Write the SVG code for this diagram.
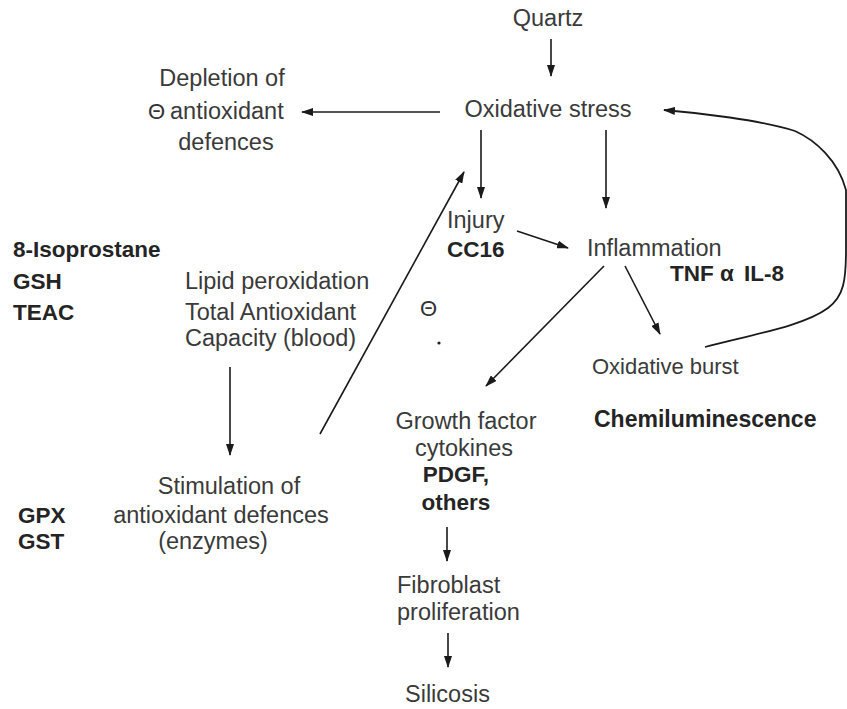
<svg xmlns="http://www.w3.org/2000/svg" width="847" height="709" viewBox="0 0 847 709">
  <defs>
    <marker id="head" viewBox="0 0 12 8" refX="11" refY="4" markerWidth="12" markerHeight="8" markerUnits="userSpaceOnUse" orient="auto">
      <path d="M0,0 L12,4 L0,8 Z" fill="#1a1a1a"/>
    </marker>
    <style>
      text { font-family: "Liberation Sans", Arial, sans-serif; font-size: 23.5px; fill: #3a3a3a; }
      .c { text-anchor: middle; }
      .b { font-weight: bold; font-size: 22.5px; fill: #242424; }
      .sym { font-size: 22px; fill: #333; }
      .link { fill: none; stroke: #1a1a1a; stroke-width: 1.6; marker-end: url(#head); }
      .loop { fill: none; stroke: #1a1a1a; stroke-width: 1.8; marker-end: url(#head); }
    </style>
  </defs>
  <rect width="847" height="709" fill="#ffffff"/>

  <g id="connectors">
    <line class="link" x1="551" y1="39" x2="551" y2="76"/>
    <line class="link" x1="440" y1="112" x2="302" y2="112"/>
    <line class="link" x1="481" y1="130" x2="481" y2="198"/>
    <line class="link" x1="606" y1="130" x2="606" y2="208"/>
    <line class="link" x1="517" y1="231" x2="568" y2="248"/>
    <line class="link" x1="604" y1="266" x2="486" y2="386"/>
    <line class="link" x1="625" y1="266" x2="660" y2="334"/>
    <line class="link" x1="230" y1="367" x2="230" y2="455"/>
    <line class="link" x1="320" y1="434" x2="464" y2="172"/>
    <line class="link" x1="447" y1="527" x2="447" y2="561"/>
    <line class="link" x1="448" y1="633" x2="448" y2="667"/>
    <path class="loop" d="M705,347 C760,333 805,325 828,308 C844,296 846,280 846,250 L846,190 C838,160 815,140 795,131 C760,120 700,113 664,110"/>
  </g>

  <g id="quartz"><text class="c" x="548" y="26">Quartz</text></g>
  <g id="oxidative-stress"><text class="c" x="548" y="117">Oxidative stress</text></g>
  <g id="depletion">
    <text class="c" x="222" y="86">Depletion of</text>
    <text x="170" y="119">antioxidant</text>
    <text class="c" x="226" y="150">defences</text>
    <text class="sym" x="148" y="119">Θ</text>
  </g>
  <g id="injury">
    <text x="447" y="228">Injury</text>
    <text class="b" x="447" y="257">CC16</text>
  </g>
  <g id="inflammation">
    <text x="587" y="256">Inflammation</text>
    <text class="b" x="670" y="281">TNF α</text>
    <text class="b" x="744" y="281">IL-8</text>
  </g>
  <g id="oxidative-burst">
    <text x="592" y="374" style="font-size:22px">Oxidative burst</text>
    <text class="b" x="594" y="427" style="font-size:23px">Chemiluminescence</text>
  </g>
  <g id="markers-left">
    <text class="b" x="13" y="257">8-Isoprostane</text>
    <text class="b" x="13" y="289">GSH</text>
    <text class="b" x="13" y="320">TEAC</text>
  </g>
  <g id="lipid">
    <text x="185" y="289">Lipid peroxidation</text>
    <text x="185" y="320">Total Antioxidant</text>
    <text x="185" y="346">Capacity (blood)</text>
  </g>
  <g id="inhibition">
    <text class="sym" x="420" y="316">Θ</text>
    <circle cx="439" cy="343" r="1.6" fill="#222"/>
  </g>
  <g id="stimulation">
    <text class="c" x="229" y="494">Stimulation of</text>
    <text class="c" x="221" y="523">antioxidant defences</text>
    <text class="c" x="213" y="549">(enzymes)</text>
  </g>
  <g id="enzymes">
    <text class="b" x="18" y="523">GPX</text>
    <text class="b" x="18" y="549">GST</text>
  </g>
  <g id="growth-factor">
    <text class="c" x="466" y="429">Growth factor</text>
    <text class="c" x="464" y="456">cytokines</text>
    <text class="b c" x="456" y="482">PDGF,</text>
    <text class="b c" x="456" y="510">others</text>
  </g>
  <g id="fibroblast">
    <text x="397" y="593">Fibroblast</text>
    <text x="397" y="620">proliferation</text>
  </g>
  <g id="silicosis"><text x="405" y="702">Silicosis</text></g>
</svg>
